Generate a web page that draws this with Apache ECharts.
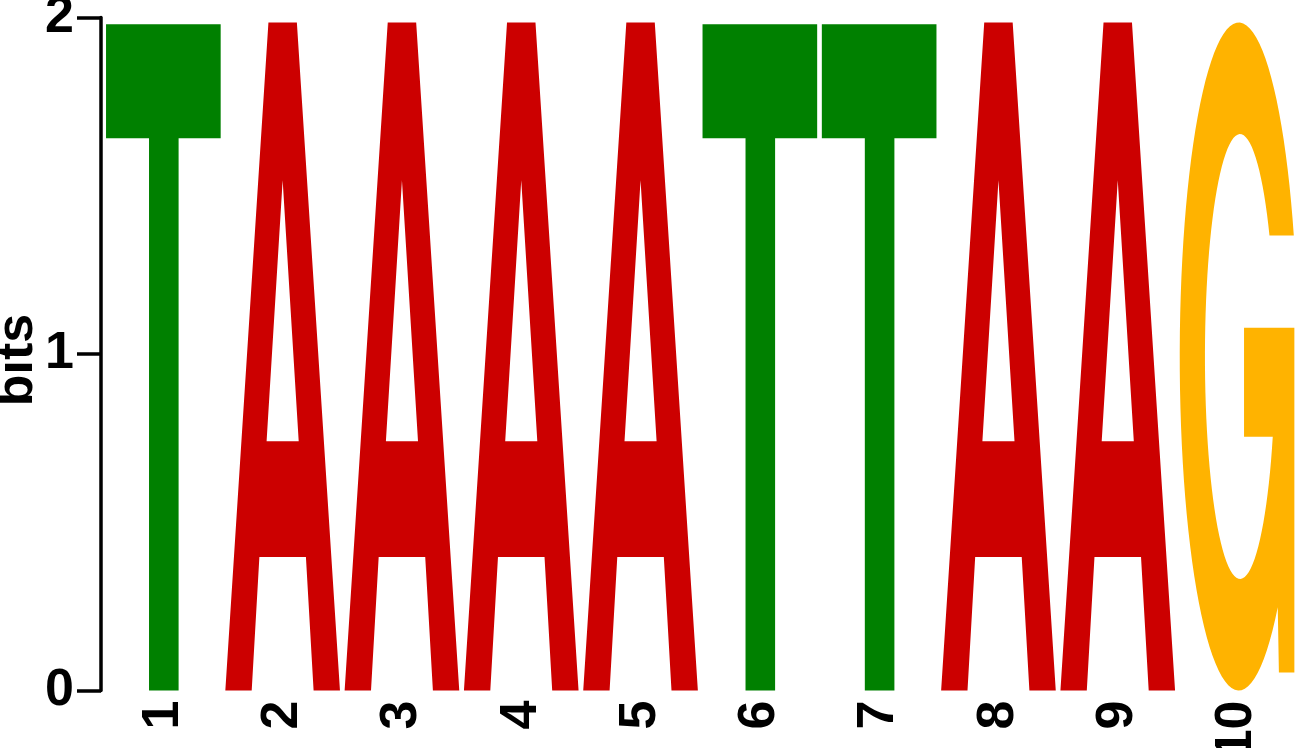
<!DOCTYPE html>
<html><head><meta charset="utf-8">
<script src="https://cdn.jsdelivr.net/npm/echarts@6/dist/echarts.min.js"></script>
<style>html,body{margin:0;padding:0;background:#fff}#c{width:1295px;height:748px}</style>
</head><body><div id="c"></div>
<script>
// ---- data ----
const positions = ['1','2','3','4','5','6','7','8','9','10'];
const letters = ['T','A','A','A','A','T','T','A','A','G'];
const bits = [1.98, 1.985, 1.985, 1.985, 1.985, 1.98, 1.98, 1.985, 1.985, 1.985];
const yTicks = [0, 1, 2];
const yTitle = 'bits';

// ---- styles ----
const COLORS = {A: '#CC0000', T: '#008000', G: '#FFB300', C: '#0000CC'};
const FONT = '"Liberation Sans", Arial, Helvetica, sans-serif';

// glyph outlines in unit box (u: 0..1 left->right, v: 0..1 bottom->top)
function ellipsePts(cu, cv, ru, rv, a0, a1, n) {
  const pts = [];
  for (let k = 0; k <= n; k++) {
    const a = (a0 + (a1 - a0) * k / n) * Math.PI / 180;
    pts.push([cu + ru * Math.cos(a), cv + rv * Math.sin(a)]);
  }
  return pts;
}
function buildG() {
  const oc = [0.515, 0.5, 0.515, 0.5];
  const ic = [0.526, 0.5, 0.306, 0.333];
  const aStart = Math.asin((0.681 - oc[1]) / oc[3]) * 180 / Math.PI;
  const aEnd = 360 - Math.acos((0.855 - oc[0]) / oc[2]) * 180 / Math.PI;
  const outer = ellipsePts(oc[0], oc[1], oc[2], oc[3], aStart, aEnd, 90);
  const iStart = Math.asin((0.380 - ic[1]) / ic[3]) * 180 / Math.PI;
  const iEnd = Math.asin((0.681 - ic[1]) / ic[3]) * 180 / Math.PI - 360;
  const inner = ellipsePts(ic[0], ic[1], ic[2], ic[3], iStart, iEnd, 90);
  return [[...outer, [0.865, 0.027], [1.0, 0.027], [1.0, 0.543], [0.561, 0.543], [0.561, 0.380], ...inner]];
}
const GLYPHS = {
  T: [[[0, 1], [1, 1], [1, 0.829], [0.633, 0.829], [0.633, 0], [0.375, 0], [0.375, 0.829], [0, 0.829]]],
  A: [
    [[0, 0], [0.376, 1], [0.624, 1], [1, 0], [0.77, 0], [0.703, 0.2], [0.297, 0.2], [0.23, 0]],
    [[0.36, 0.373], [0.64, 0.373], [0.5, 0.764]]
  ],
  G: buildG()
};

function renderItem(params, api) {
  const i = api.value(0), h = api.value(1);
  const letter = letters[params.dataIndex];
  const base = api.coord([i, 0]);
  const topP = api.coord([i, h]);
  const bw = api.size([1, 0])[0];
  const w = bw * 0.961;
  const left = base[0] - w / 2, bottom = base[1], hh = bottom - topP[1];
  const mp = ([u, v]) => [left + u * w, bottom - v * hh];
  let d = '';
  GLYPHS[letter].forEach(ring => {
    ring.forEach((p, k) => {
      const q = mp(p);
      d += (k === 0 ? 'M' : 'L') + q[0].toFixed(2) + ' ' + q[1].toFixed(2) + ' ';
    });
    d += 'Z ';
  });
  return {
    type: 'path',
    shape: {pathData: d},
    style: {fill: COLORS[letter], stroke: null}
  };
}

const chart = echarts.init(document.getElementById('c'), null, {renderer: 'canvas'});
chart.setOption({
  backgroundColor: '#ffffff',
  animation: false,
  grid: {left: 103.7, right: -1.7, top: 17.5, bottom: 57.5, containLabel: false, outerBoundsMode: 'none'},
  graphic: [{
    type: 'text',
    x: 18, y: 360,
    rotation: Math.PI / 2,
    style: {
      text: yTitle, x: 0, y: 0, align: 'center', verticalAlign: 'middle',
      fill: '#000', fontSize: 52, fontWeight: 'bold', fontFamily: FONT
    }
  }],
  xAxis: {
    type: 'category',
    data: positions,
    boundaryGap: true,
    axisLine: {show: false},
    axisTick: {show: false},
    splitLine: {show: false},
    axisLabel: {
      rotate: 90, margin: 10, color: '#000', fontSize: 52,
      fontWeight: 'bold', fontFamily: FONT, interval: 0
    }
  },
  yAxis: {
    type: 'value',
    min: yTicks[0], max: yTicks[yTicks.length - 1], interval: 1,
    offset: 2.7,
    axisLine: {show: true, lineStyle: {color: '#000', width: 3.5}},
    axisTick: {show: true, length: 24, lineStyle: {color: '#000', width: 3.5}},
    splitLine: {show: false},
    axisLabel: {
      margin: 27, color: '#000', fontSize: 52, fontWeight: 'bold', fontFamily: FONT
    }
  },
  series: [{
    type: 'custom',
    renderItem: renderItem,
    data: letters.map((l, i) => [i, bits[i]]),
    clip: false
  }]
});
</script>
</body></html>
